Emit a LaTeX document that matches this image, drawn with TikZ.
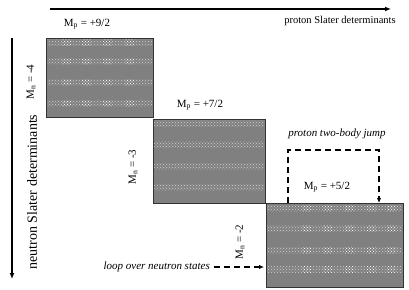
\documentclass[tikz,border=0pt]{standalone}
\usepackage{fontspec}
\setmainfont{Liberation Serif}
\usetikzlibrary{patterns,arrows.meta,calc}
\tikzset{
  blk/.style={draw=black!80, fill=black!50, line width=0.8pt, minimum width=#1, inner sep=0pt, anchor=north west},
  stripe/.style={pattern=crosshatch dots, pattern color=white!65!gray},
  patch/.style={pattern=crosshatch dots, pattern color=white},
  lbl/.style={font=\fontsize{11}{13}\selectfont, inner sep=1pt},
  ilbl/.style={font=\fontsize{11}{13}\selectfont\itshape, inner sep=1pt},
  axis/.style={line width=1.4pt, -{Latex[length=6pt,width=5pt]}},
  jump/.style={line width=1.5pt, dash pattern=on 6pt off 4pt, -{Latex[length=5pt,width=4.5pt]}}
}
\begin{document}
\begin{tikzpicture}[x=1pt,y=-1pt]
\useasboundingbox (0,0) rectangle (409,289);
% axes
\coordinate (px0) at (50,9);
\coordinate (px1) at (391,9);
\draw[axis] (px0) -- (px1);
\node[font=\fontsize{10.5}{12}\selectfont, inner sep=1pt] (ptext) at (340,21) {proton Slater determinants};
\coordinate (ny0) at (12,38);
\coordinate (ny1) at (12,279);
\draw[axis] (ny0) -- (ny1);
\node[font=\fontsize{14}{16}\selectfont, rotate=90] (ntext) at (32,192) {neutron Slater determinants};
% blocks
\node[blk=107pt, minimum height=79pt] (b1) at (46,38) {};
\node[blk=112pt, minimum height=84pt] (b2) at (153,119) {};
\node[blk=137pt, minimum height=84pt] (b3) at (266,203) {};
\foreach \dy in {1,20,41,62} \fill[stripe] ($(b1.north west)+(1,\dy)$) rectangle ++(105,6);
\foreach \dy in {1,22,44,65} \fill[stripe] ($(b2.north west)+(1,\dy)$) rectangle ++(110,6);
\foreach \dy in {2,22,44,63} \fill[stripe] ($(b3.north west)+(1,\dy)$) rectangle ++(135,6);
\foreach \dy in {1,20,41,62} \foreach \dx in {16,36,57,79} \fill[patch] ($(b1.north west)+(\dx,\dy)$) rectangle ++(9,6);
\foreach \dy in {2,22,44,63} \foreach \dx in {36,57,79,101,121} \fill[patch] ($(b3.north west)+(\dx,\dy)$) rectangle ++(9,6);
% labels
\node[lbl] (mp1) at (87,24) {M\textsubscript{p} = +9/2};
\node[lbl] (mp2) at (200,105) {M\textsubscript{p} = +7/2};
\node[lbl] (mp3) at (327,187) {M\textsubscript{p} = +5/2};
\node[lbl, rotate=90] (mn1) at (31,82) {M\textsubscript{n} = -4};
\node[lbl, rotate=90] (mn2) at (133,167) {M\textsubscript{n} = -3};
\node[lbl, rotate=90] (mn3) at (240,242) {M\textsubscript{n} = -2};
% proton jump
\node[ilbl] (jt) at (337,134) {proton two-body jump};
\coordinate (j0) at ($(b3.north west)+(22,0)$);
\coordinate (j3) at ($(b3.north west)+(113,0)$);
\draw[jump] (j0) -- ++(0,-53) -| (j3);
% neutron loop
\node[ilbl, anchor=east] (lt) at (211,267) {loop over neutron states};
\draw[jump] ($(lt.east)+(3,0)$) -- ($(b3.west |- lt.east)+(-2,0)$);
\end{tikzpicture}
\end{document}
